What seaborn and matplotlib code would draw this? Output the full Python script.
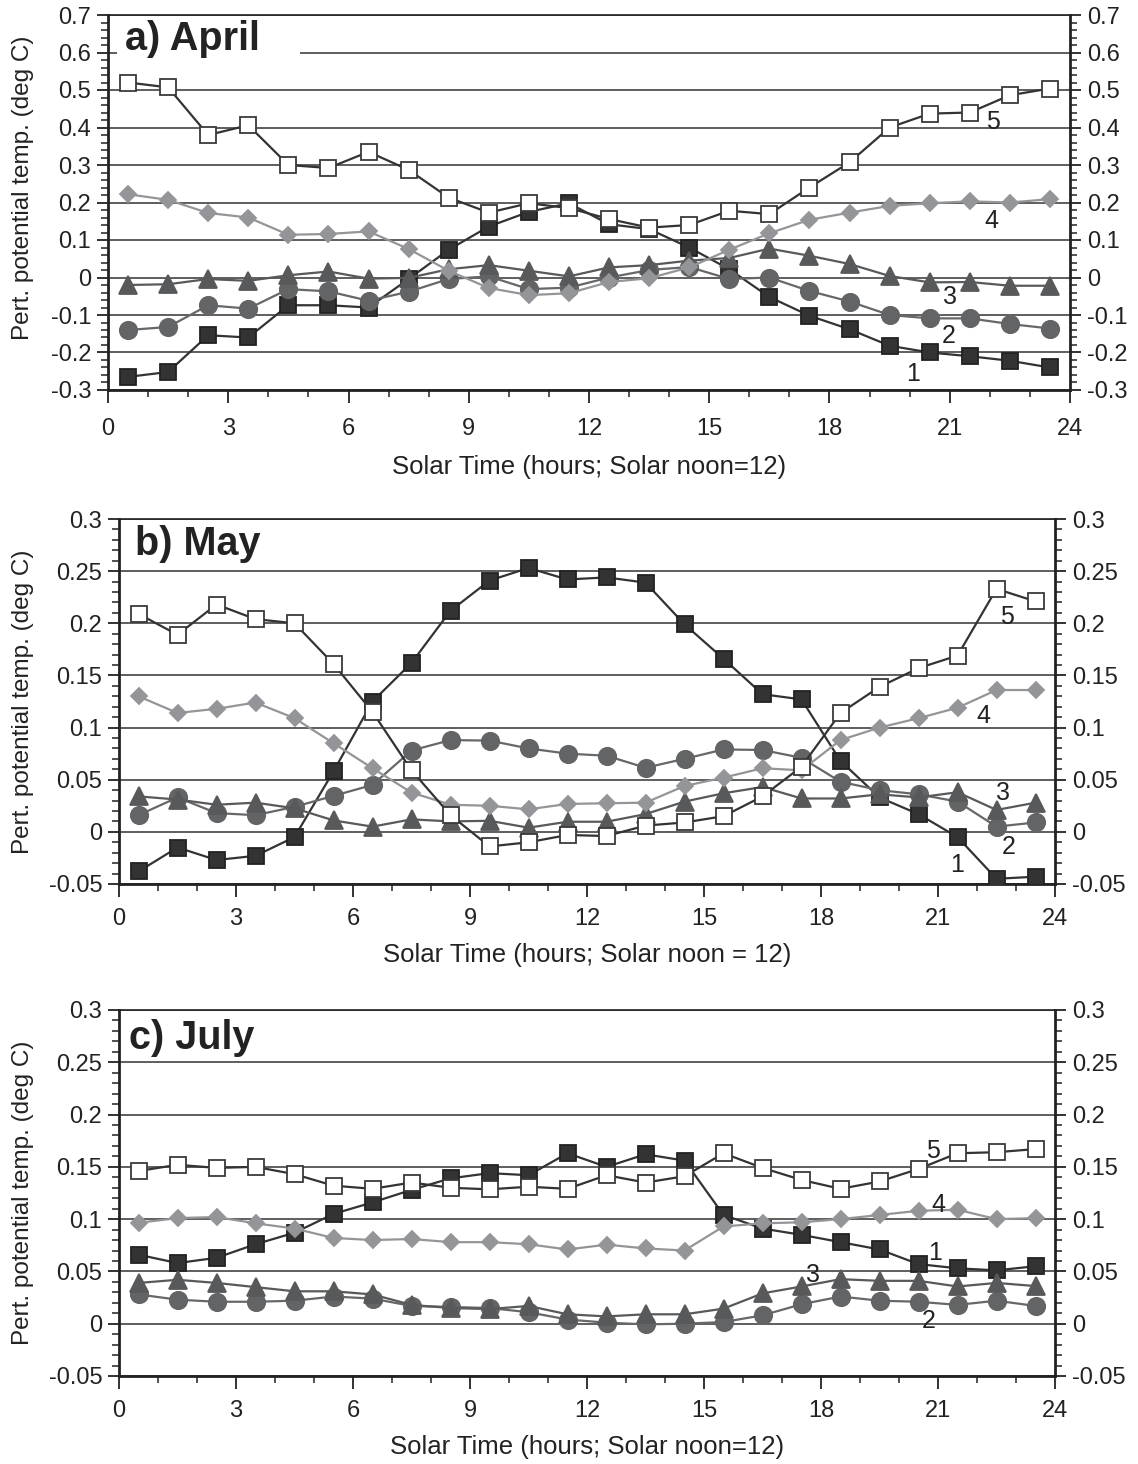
import numpy as np
import matplotlib
matplotlib.use("Agg")
import matplotlib.pyplot as plt
import seaborn as sns
from matplotlib.ticker import MultipleLocator, FuncFormatter
from matplotlib.patches import Rectangle

# ---------------- data ----------------
hours = [0.5, 1.5, 2.5, 3.5, 4.5, 5.5, 6.5, 7.5, 8.5, 9.5, 10.5, 11.5,
         12.5, 13.5, 14.5, 15.5, 16.5, 17.5, 18.5, 19.5, 20.5, 21.5, 22.5, 23.5]

april_1 = [-0.265, -0.252, -0.154, -0.160, -0.074, -0.074, -0.080, -0.004, 0.074, 0.136, 0.175, 0.198,
           0.142, 0.129, 0.080, 0.022, -0.052, -0.102, -0.138, -0.182, -0.200, -0.210, -0.222, -0.240]
april_2 = [-0.140, -0.132, -0.074, -0.083, -0.031, -0.037, -0.062, -0.038, -0.004, 0.003, -0.031, -0.027,
           0.000, 0.020, 0.028, -0.004, 0.000, -0.036, -0.064, -0.100, -0.109, -0.109, -0.124, -0.136]
april_3 = [-0.020, -0.018, -0.004, -0.009, 0.006, 0.016, -0.003, -0.001, 0.022, 0.033, 0.018, 0.003,
           0.027, 0.033, 0.045, 0.052, 0.077, 0.058, 0.036, 0.004, -0.013, -0.012, -0.022, -0.022]
april_4 = [0.222, 0.207, 0.172, 0.160, 0.114, 0.116, 0.123, 0.076, 0.018, -0.028, -0.047, -0.042,
           -0.012, -0.002, 0.027, 0.074, 0.118, 0.154, 0.173, 0.191, 0.198, 0.203, 0.200, 0.209]
april_5 = [0.520, 0.507, 0.380, 0.406, 0.300, 0.292, 0.335, 0.287, 0.213, 0.173, 0.198, 0.185,
           0.156, 0.133, 0.140, 0.178, 0.169, 0.240, 0.307, 0.400, 0.437, 0.440, 0.486, 0.504]

may_1 = [-0.038, -0.015, -0.027, -0.023, -0.005, 0.058, 0.125, 0.162, 0.212, 0.241, 0.253, 0.242,
         0.244, 0.239, 0.199, 0.166, 0.132, 0.127, 0.068, 0.033, 0.017, -0.005, -0.045, -0.043]
may_2 = [0.016, 0.033, 0.018, 0.016, 0.024, 0.0345, 0.045, 0.078, 0.088, 0.0875, 0.080, 0.075,
         0.073, 0.0615, 0.070, 0.079, 0.0785, 0.071, 0.048, 0.040, 0.036, 0.029, 0.005, 0.009]
may_3 = [0.034, 0.031, 0.026, 0.028, 0.0226, 0.011, 0.005, 0.012, 0.010, 0.0106, 0.004, 0.0097,
         0.0097, 0.017, 0.029, 0.037, 0.043, 0.032, 0.032, 0.036, 0.033, 0.038, 0.021, 0.028]
may_4 = [0.130, 0.114, 0.118, 0.124, 0.109, 0.085, 0.061, 0.0377, 0.026, 0.025, 0.0216, 0.0268,
         0.0274, 0.028, 0.044, 0.052, 0.061, 0.059, 0.088, 0.100, 0.109, 0.119, 0.136, 0.136]
may_5 = [0.209, 0.189, 0.218, 0.204, 0.200, 0.161, 0.115, 0.059, 0.016, -0.014, -0.010, -0.003,
         -0.004, 0.006, 0.009, 0.015, 0.034, 0.0625, 0.114, 0.139, 0.157, 0.169, 0.233, 0.221]

july_1 = [0.066, 0.058, 0.063, 0.076, 0.087, 0.105, 0.116, 0.128, 0.139, 0.144, 0.142, 0.163,
          0.150, 0.162, 0.156, 0.104, 0.091, 0.085, 0.078, 0.071, 0.057, 0.053, 0.051, 0.055]
july_2 = [0.028, 0.023, 0.021, 0.021, 0.022, 0.026, 0.024, 0.017, 0.016, 0.015, 0.011, 0.004,
          0.001, -0.0006, 0.000, 0.0016, 0.008, 0.0186, 0.026, 0.022, 0.021, 0.018, 0.022, 0.017]
july_3 = [0.039, 0.042, 0.039, 0.035, 0.031, 0.031, 0.028, 0.018, 0.015, 0.014, 0.017, 0.009,
          0.007, 0.009, 0.009, 0.0144, 0.029, 0.0356, 0.0426, 0.041, 0.041, 0.0356, 0.039, 0.036]
july_4 = [0.0965, 0.101, 0.102, 0.096, 0.091, 0.082, 0.080, 0.081, 0.078, 0.078, 0.076, 0.071,
          0.0756, 0.072, 0.070, 0.093, 0.096, 0.097, 0.100, 0.104, 0.108, 0.109, 0.100, 0.101]
july_5 = [0.146, 0.152, 0.149, 0.150, 0.143, 0.132, 0.129, 0.135, 0.130, 0.1285, 0.131, 0.129,
          0.142, 0.135, 0.141, 0.163, 0.149, 0.1375, 0.129, 0.136, 0.148, 0.163, 0.164, 0.167]

series_names = ["1", "2", "3", "4", "5"]
panel_titles = ["a) April", "b) May", "c) July"]
xlabels = ["Solar Time (hours; Solar noon=12)",
           "Solar Time (hours; Solar noon = 12)",
           "Solar Time (hours; Solar noon=12)"]
ylabel = "Pert. potential temp. (deg C)"

# label positions (hour, value) for the curve numbers
april_lab = [(20.08, -0.258), (20.98, -0.157), (21.01, -0.053), (22.03, 0.150), (22.08, 0.414)]
may_lab = [(21.48, -0.032), (22.8, -0.0144), (22.66, 0.037), (22.16, 0.111), (22.76, 0.2065)]
july_lab = [(20.92, 0.068), (20.75, 0.003), (17.80, 0.047), (21.01, 0.114), (20.88, 0.165)]

# ---------------- style ----------------
sns.set_style("ticks")
plt.rcParams["font.family"] = ["Liberation Sans", "DejaVu Sans"]
plt.rcParams["axes.unicode_minus"] = False

styles = [
    dict(marker="s", markersize=11.5, markerfacecolor="#333333", markeredgecolor="#222222", color="#333333"),
    dict(marker="o", markersize=12.5, markerfacecolor="#636466", markeredgecolor="#636466", color="#666769"),
    dict(marker="^", markersize=12.5, markerfacecolor="#58595b", markeredgecolor="#58595b", color="#58595b"),
    dict(marker="D", markersize=8.3, markerfacecolor="#939598", markeredgecolor="#939598", color="#939598"),
    dict(marker="s", markersize=11.5, markerfacecolor="white", markeredgecolor="#3a3a3a", color="#333333"),
]

fig = plt.figure(figsize=(11.38, 14.64), dpi=100)
W, H = 1138.0, 1464.0

def px_axes(l, t, r, b):
    return fig.add_axes([l / W, 1 - b / H, (r - l) / W, (b - t) / H])

panels = [
    dict(box=(108, 15, 1070, 390), data=[april_1, april_2, april_3, april_4, april_5],
         ylim=(-0.3, 0.7), major=0.1, minor=0.02, labs=april_lab, xpad=11, xlab_top=455),
    dict(box=(119, 519, 1055, 884), data=[may_1, may_2, may_3, may_4, may_5],
         ylim=(-0.05, 0.3), major=0.05, minor=0.01, labs=may_lab, xpad=8, xlab_top=943),
    dict(box=(119, 1010, 1055, 1376), data=[july_1, july_2, july_3, july_4, july_5],
         ylim=(-0.05, 0.3), major=0.05, minor=0.01, labs=july_lab, xpad=8, xlab_top=1435),
]

fmt = FuncFormatter(lambda v, p: "0" if abs(v) < 1e-9 else ("%g" % round(v, 3)))

for i, pn in enumerate(panels):
    l, t, r, b = pn["box"]
    ax = px_axes(l, t, r, b)
    ax.set_axisbelow(True)
    for k, vals in enumerate(pn["data"]):
        sns.lineplot(x=hours, y=vals, ax=ax, linewidth=1.6, markeredgewidth=1.3,
                     zorder=3 + k, **styles[k])
    ax.set_xlim(0, 24)
    ax.set_ylim(*pn["ylim"])
    ax.xaxis.set_major_locator(MultipleLocator(3))
    ax.xaxis.set_minor_locator(MultipleLocator(1))
    ax.yaxis.set_major_locator(MultipleLocator(pn["major"]))
    ax.yaxis.set_minor_locator(MultipleLocator(pn["minor"]))
    ax.yaxis.set_major_formatter(fmt)
    ax.grid(axis="y", which="major", color="#333333", linewidth=1.1)
    ax.grid(axis="x", visible=False)
    ax.tick_params(axis="x", which="major", direction="out", length=9, width=1.3,
                   labelsize=17, pad=pn["xpad"], colors="#222222")
    ax.tick_params(axis="x", which="minor", direction="out", length=5, width=1.1, colors="#222222")
    ax.tick_params(axis="y", which="major", direction="out", length=8, width=1.3,
                   labelsize=17, pad=4, left=True, right=True, labelleft=True, labelright=True,
                   colors="#222222")
    ax.tick_params(axis="y", which="minor", direction="out", length=5, width=1.1,
                   left=True, right=True, colors="#222222")
    for s in ["left", "right", "bottom"]:
        ax.spines[s].set_linewidth(2.0)
        ax.spines[s].set_color("#222222")
    ax.spines["top"].set_linewidth(1.2)
    ax.spines["top"].set_color("#222222")

    ax.set_xlabel(xlabels[i], fontsize=18.5, color="#222222")
    ax.set_ylabel(ylabel, fontsize=17.5, color="#222222")
    hgt = b - t
    wid = r - l
    ax.xaxis.set_label_coords(0.5, -(pn["xlab_top"] - b) / hgt)
    ax.yaxis.set_label_coords((34 - l) / wid, 0.54 if i == 0 else 0.5)

    # title with white background
    if i == 0:
        ax.add_patch(Rectangle(((117 - l) / wid, (b - 62) / hgt), (300 - 117) / wid, 45 / hgt,
                               transform=ax.transAxes, facecolor="white", edgecolor="none", zorder=1))
        tx, ty = (125 - l) / wid, (b - 50) / hgt
    elif i == 1:
        tx, ty = (135 - l) / wid, (b - 555) / hgt
    else:
        tx, ty = (129 - l) / wid, (b - 1049) / hgt
    ax.text(tx, ty, panel_titles[i], transform=ax.transAxes, fontsize=28.5, fontweight="bold",
            color="#222222", ha="left", va="baseline", zorder=10)

    for name, (hx, vy) in zip(series_names, pn["labs"]):
        ax.text(hx, vy, name, fontsize=18, color="#222222", ha="center", va="center", zorder=12)

fig.savefig("out.png", dpi=100)
